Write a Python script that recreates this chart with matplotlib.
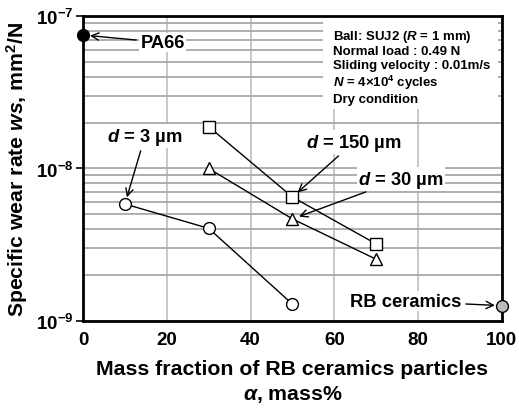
import numpy as np
import matplotlib.pyplot as plt
from matplotlib.patches import Rectangle
from matplotlib.ticker import FixedLocator, NullFormatter

plt.rcParams['font.family'] = ['Liberation Sans', 'DejaVu Sans']
plt.rcParams['font.weight'] = 'bold'
plt.rcParams['mathtext.fontset'] = 'custom'
plt.rcParams['mathtext.rm'] = 'Liberation Sans:bold'
plt.rcParams['mathtext.bf'] = 'Liberation Sans:bold'
plt.rcParams['mathtext.it'] = 'Liberation Sans:bold:italic'

# data
pa66_x, pa66_y = [0], [7.5e-8]
rb_x, rb_y = [100], [1.26e-9]
d3_x = [10, 30, 50]
d3_y = [5.85e-9, 4.05e-9, 1.29e-9]
d30_x = [30, 50, 70]
d30_y = [1.0e-8, 4.67e-9, 2.54e-9]
d150_x = [30, 50, 70]
d150_y = [1.88e-8, 6.5e-9, 3.2e-9]

y_major = [1e-9, 1e-8, 1e-7]
y_minor = [m * 10.0 ** e for e in (-9, -8) for m in range(2, 10)]

fig = plt.figure(figsize=(5.19, 4.10), dpi=100)
ax = fig.add_axes([0.160, 0.2146, 0.807, 0.744])

ax.set_yscale('log')
ax.set_xlim(0, 100)
ax.set_ylim(1e-9, 1e-7)
ax.set_xticks([0, 20, 40, 60, 80, 100])
ax.yaxis.set_major_locator(FixedLocator(y_major))
ax.yaxis.set_minor_locator(FixedLocator(y_minor))
ax.yaxis.set_minor_formatter(NullFormatter())

ax.grid(True, axis='x', which='major', color='#c4c4c4', lw=1.3, zorder=0)
ax.grid(True, axis='y', which='both', color='#a8a8a8', lw=1.3, zorder=0)
ax.set_axisbelow(True)

for s in ax.spines.values():
    s.set_linewidth(2)
ax.tick_params(axis='both', which='major', labelsize=13.5, length=5, width=1.2, direction='out')
ax.tick_params(axis='y', which='minor', length=0)
ax.tick_params(axis='y', which='major', pad=2)
ax.tick_params(axis='x', which='major', length=0, pad=7)

mk = dict(color='black', lw=1, mfc='white', mec='black', mew=1, ms=8.5, zorder=5)
ax.plot(d3_x, d3_y, marker='o', **mk)
ax.plot(d30_x, d30_y, marker='^', **mk)
ax.plot(d150_x, d150_y, marker='s', **mk)
ax.plot(pa66_x, pa66_y, 'o', color='black', ms=8.5, clip_on=False, zorder=6)
ax.plot(rb_x, rb_y, 'o', mfc='#bbbbbb', mec='black', mew=1, ms=8.5, clip_on=False, zorder=6)

box = dict(facecolor='white', edgecolor='none', pad=1)
arr = dict(arrowstyle='->', color='black', lw=1, shrinkA=2, shrinkB=5)
fs = 13.2

ax.annotate('PA66', xy=(pa66_x[0], pa66_y[0]), xytext=(19, 6.7e-8), fontsize=fs,
            ha='center', va='center', bbox=box, arrowprops=arr, zorder=2.3)
ax.annotate('RB ceramics', xy=(rb_x[0], rb_y[0]), xytext=(77.1, 1.35e-9), fontsize=fs,
            ha='center', va='center', bbox=box, arrowprops=arr, zorder=2.3)
ax.annotate('$d$ = 3 µm', xy=(d3_x[0], d3_y[0]), xytext=(14.8, 1.63e-8), fontsize=fs,
            ha='center', va='center', bbox=box, arrowprops=arr, zorder=2.3)
ax.annotate('$d$ = 150 µm', xy=(d150_x[1], d150_y[1]), xytext=(64.7, 1.49e-8), fontsize=fs,
            ha='center', va='center', bbox=box, arrowprops=arr, zorder=2.3)
ax.annotate('$d$ = 30 µm', xy=(d30_x[1], d30_y[1]), xytext=(75.9, 8.53e-9), fontsize=fs,
            ha='center', va='center', bbox=box, arrowprops=arr, zorder=2.3)

# white panel behind the test conditions
ax.add_patch(Rectangle((0.573, 0.695), 0.418, 0.305, transform=ax.transAxes,
                       facecolor='white', edgecolor='none', zorder=1))
cond = ('Ball: SUJ2 ($R$ = 1 mm)\nNormal load : 0.49 N\nSliding velocity : 0.01m/s\n'
        '$N$ = 4×10$^4$ cycles\nDry condition')
ax.text(0.597, 0.962, cond, transform=ax.transAxes, fontsize=9.5, ha='left', va='top',
        linespacing=1.18, zorder=3)

ax.set_ylabel('Specific wear rate $ws$, mm$^2$/N', fontsize=15.3, fontweight='bold', labelpad=4)
ax.set_xlabel('Mass fraction of RB ceramics particles\n$\\alpha$, mass%', fontsize=15.3,
              fontweight='bold', labelpad=8, linespacing=1.3)

fig.savefig('out.png', dpi=100)
